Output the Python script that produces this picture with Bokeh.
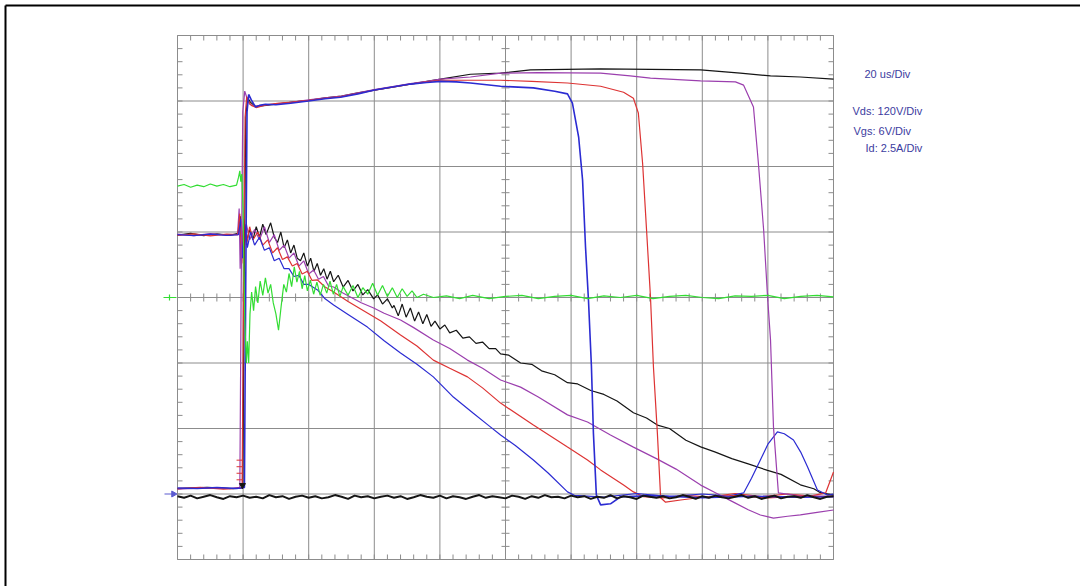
from bokeh.plotting import figure
from bokeh.models import Range1d, Label
from bokeh.embed import file_html
from bokeh.resources import INLINE
import numpy as np

# ---------------- DATA ----------------
# time in microseconds (20 us/div), Vds in volts (120 V/div), Vgs in volts (6 V/div), Id in amps (2.5 A/div)

vgs_t = [0, 2, 4, 6, 8, 10, 12, 14, 16, 18, 18.6, 19.0, 19.3, 19.6, 20.0, 20.5, 21.0, 21.3, 21.7, 22.1,
         22.6, 23.2, 23.8, 24.5, 25.2, 26.0, 26.8, 27.6, 28.4, 29.2, 30.0, 30.8, 31.6, 32.4, 33.2, 34.0,
         34.8, 35.6, 36.4, 37.2, 38.0, 38.8, 39.6, 40.5, 41.5, 42.5, 43.5, 44.5, 45.5, 46.5, 47.5, 48.5,
         49.5, 50.5, 52, 53.5, 55, 56.5, 58, 59.5, 61, 62.5, 64, 65.5, 67, 68.5, 70, 71.5, 73, 75, 78,
         82, 86, 90, 95, 100, 105, 110, 115, 120, 125, 130, 135, 140, 145, 150, 155, 160, 165, 170, 175,
         180, 185, 190, 195, 200]
vgs_v = [10.2, 10.35, 10.1, 10.3, 10.15, 10.4, 10.2, 10.35, 10.15, 10.3, 11.0, 11.6, 10.6, 11.3, 8.0, -2.0,
         -6.0, -4.0, -6.0, -1.5, 0.5, -1.2, 1.0, -0.5, 1.5, 0.2, 1.8, 0.4, 1.2, -0.5, -1.5, -3.0, -0.8, 1.2,
         0.5, 2.2, 1.0, 2.8, 1.4, 2.4, 0.8, 2.0, 0.6, 1.6, 0.3, 1.4, 0.2, 1.2, 0.4, 1.5, 0.3, 1.2, 0.1, 1.0,
         0.2, 1.1, 0.0, 0.9, 0.3, 1.3, 0.2, 1.1, 0.1, 0.9, 0.0, 0.8, 0.1, 0.6, 0.0, 0.3, 0.0, 0.15, -0.1,
         0.2, -0.1, 0.1, 0.2, -0.1, 0.1, 0.2, -0.1, 0.15, 0.0, 0.2, -0.1, 0.1, 0.2, 0.0, -0.1, 0.15, 0.1,
         0.2, -0.1, 0.1, 0.2, 0.05]

# Vds traces
vds_blue_t = [0, 6, 12, 18, 20.4, 20.8, 21.2, 21.7, 22.5, 23.8, 25, 26.8, 30, 34.5, 39.9, 45, 49.7, 55, 60.1,
              66, 71, 76, 80.2, 85, 89.3, 98.5, 108.5, 115, 118.9, 120.4, 122.3, 123.5, 124.4, 125.3, 126.2,
              126.8, 127.7, 129, 132, 135.1, 145, 160, 175, 190, 200]
vds_blue_v = [11, 10, 12, 10, 12, 380, 700, 732, 722, 709, 712, 714, 713, 716, 720, 724, 727, 733, 740,
              746, 751, 754, 756, 755, 753, 747, 744, 738, 733, 716, 654, 575, 452, 355, 233,
              112, -2, -20, -18, -5, -3, -7, -4, -6, -5]

vds_red_t = [0, 7, 14, 19.7, 20.1, 20.6, 21.1, 21.6, 22.5, 24, 27, 31, 35, 40, 45, 50, 55, 60, 66, 71, 76,
             80.2, 89.3, 98.5, 108, 118.9, 129, 136, 139, 140.5, 141.8, 143, 144.2, 145.1, 146.3, 147.3,
             148.8, 153.4, 160, 170, 180, 190, 200]
vds_red_v = [10, 12, 9, 11, 360, 690, 728, 720, 712, 708, 713, 716, 718, 721, 725, 728, 734, 740, 746,
             751, 755, 758, 758, 758, 756, 753, 747, 736, 725, 698, 606, 484, 361, 233, 112, -7,
             -15, -11, -6, -3, -7, -4, -5]

vds_purple_t = [0, 8, 16, 19.0, 19.4, 19.9, 20.5, 21.2, 22, 23.8, 27, 31, 35, 40, 45, 50, 55, 60, 66, 71,
                76, 80.2, 89.3, 98.5, 110, 129, 138, 144.2, 159.5, 170.1, 172.6, 175.6, 177.1, 178.7,
                179.9, 180.8, 181.7, 183.2, 190, 200]
vds_purple_v = [9, 11, 10, 12, 370, 700, 738, 725, 714, 710, 713, 715, 718, 722, 726, 729, 735, 741, 747,
                752, 756, 760, 764, 771, 772, 771, 766, 762, 757, 755, 749, 709, 606, 484,
                361, 282, 123, 2, -4, -4]

vds_black_t = [0, 9, 17, 19.9, 20.3, 20.8, 21.4, 22.2, 23.8, 27, 31, 35, 40, 45, 50, 55, 60, 66, 71, 76,
               80.2, 89.3, 98.5, 107.6, 129, 159.5, 171.6, 180.8, 189.9, 200]
vds_black_v = [10, 12, 10, 11, 350, 690, 726, 718, 710, 712, 715, 718, 721, 726, 729, 735, 740, 746,
               751, 756, 760, 769, 771, 777, 779, 777, 771, 766, 764, 760]

# Id traces
id_black_t = [0, 4, 8, 12, 16, 18.5, 19.2, 19.7, 20.3, 21.0, 22.0, 23.0, 24.0, 25.0, 26.0, 27.0, 28.4, 29.5,
              30.5, 31.5, 32.5, 33.5, 34.5, 35.5, 36.5, 37.5, 38.5, 39.6, 40.6, 41.6, 42.6, 43.6, 44.6,
              45.6, 46.6, 47.6, 49, 50.5, 52, 53.5, 55, 56.5, 58, 59.8, 61, 62.5, 64, 65.5, 66, 67.3,
              68.5, 69.7, 71, 72.3, 73.5, 74.8, 76, 77.3, 78.5, 80, 81.5, 83, 85, 87, 89, 91, 93, 95, 97,
              98.5, 101, 104.6, 108, 111, 115, 118.9, 122, 126, 130, 134, 139, 143, 146.3, 150, 155,
              159.5, 164, 169, 174, 179.9, 184, 189.9, 194, 196, 200]
id_black_a = [9.88, 9.95, 9.86, 9.93, 9.87, 9.95, 10.6, 9.2, 10.4, 9.6, 10.1, 9.7, 10.2, 9.8, 10.3, 9.9,
              10.35, 9.8, 9.6, 10.0, 9.4, 9.7, 9.2, 9.5, 9.0, 8.9, 9.2, 8.7, 9.0, 8.5, 8.8, 8.35, 8.6,
              8.2, 8.5, 8.1, 8.35, 7.9, 8.15, 7.75, 8.0, 7.6, 7.8, 7.45, 7.6, 7.25, 7.45, 7.1, 7.2, 6.8,
              7.25, 6.75, 7.1, 6.6, 6.95, 6.5, 6.85, 6.4, 6.6, 6.3, 6.45, 6.15, 6.25, 5.95, 6.0, 5.75,
              5.8, 5.55, 5.55, 5.35, 5.3, 5.0, 4.95, 4.7, 4.55, 4.25, 4.2, 3.95, 3.8, 3.55, 3.1, 2.9,
              2.63, 2.5, 2.05, 1.8, 1.6, 1.35, 1.15, 0.9, 0.75, 0.35, 0.2, 0.05, -0.04]

id_purple_t = [0, 5, 10, 15, 18.3, 18.8, 19.1, 19.5, 20.0, 21, 22, 23.5, 25, 26.5, 28, 29.5, 31, 32.5, 34,
               35.5, 37, 38.5, 40, 41.5, 43, 44.5, 46, 47.6, 50, 53, 56, 59.8, 63, 68, 72, 78, 83, 88.4,
               93, 98.5, 104.6, 110, 118.9, 125, 132, 139, 146, 152, 159.5, 164, 169.5, 174, 177.7,
               181.7, 186, 189.9, 195, 200]
id_purple_a = [9.92, 9.86, 9.94, 9.88, 9.9, 10.9, 8.6, 10.4, 9.4, 10.3, 9.7, 10.1, 9.7, 10.2, 9.6, 9.9,
               9.3, 9.5, 9.0, 9.2, 8.7, 8.9, 8.4, 8.55, 8.2, 8.3, 7.95, 7.9, 7.7, 7.5, 7.3, 7.1, 6.9,
               6.64, 6.35, 5.88, 5.55, 5.11, 4.8, 4.35, 4.08, 3.7, 3.02, 2.75, 2.25, 1.79, 1.35, 0.95,
               0.34, 0.05, -0.31, -0.6, -0.8, -0.92, -0.85, -0.8, -0.7, -0.61]

id_red_t = [0, 5, 10, 15, 18.4, 19.0, 19.6, 20.2, 21, 22, 23, 24.5, 26, 27.5, 29, 30.5, 32, 33.5, 35, 36.5,
            38, 39.6, 41, 42.7, 45, 47.6, 52, 57.9, 62, 68, 73, 78, 83, 88.4, 93, 98.5, 108.5, 118.9,
            125, 129, 136, 139, 142, 148, 155, 162, 170, 178, 186, 193, 197.6, 200]
id_red_a = [9.87, 9.93, 9.85, 9.92, 9.9, 10.7, 8.8, 10.5, 9.5, 10.2, 9.7, 10.0, 9.5, 9.7, 9.2, 9.4, 8.95,
            9.05, 8.7, 8.8, 8.4, 8.5, 8.15, 8.17, 7.9, 7.71, 7.35, 6.91, 6.6, 6.07, 5.65, 5.11, 4.8,
            4.47, 4.05, 3.47, 2.63, 1.79, 1.3, 0.92, 0.34, 0.08, -0.1, -0.15, -0.05, -0.12, 0.02,
            -0.1, 0.0, -0.08, 0.04, 0.84]

id_blue_t = [0, 5, 10, 15, 18.6, 19.3, 19.8, 20.5, 21.3, 22.3, 23.5, 25, 26.5, 28, 29.5, 31, 32.5, 34,
             35.5, 37, 38.5, 40, 42.7, 45, 47.6, 52, 57.9, 63, 68, 73, 78, 84.1, 90, 95, 98.5, 103,
             108.5, 113, 118.9, 121, 130, 140, 150, 160, 168, 172.6, 175, 177.7, 180, 182.9, 185, 187.8,
             190, 192.1, 195.1, 198.2, 200]
id_blue_a = [9.9, 9.86, 9.92, 9.87, 9.9, 10.5, 9.0, 10.3, 9.4, 10.0, 9.5, 9.8, 9.3, 9.4, 8.9, 9.0, 8.6,
             8.6, 8.3, 8.35, 8.0, 8.0, 7.79, 7.45, 7.21, 6.85, 6.37, 5.85, 5.38, 4.95, 4.47, 3.7, 3.1,
             2.6, 2.25, 1.85, 1.3, 0.8, 0.08, -0.05, -0.12, 0.02, -0.1, 0.0, -0.08, 0.04, 0.6, 1.3, 1.9,
             2.37, 2.3, 2.06, 1.6, 1.03, 0.15, -0.04, 0.0]

# thick black base-line trace (sampled every 2 us), volts on the Vds scale
base_t = list(range(0, 201, 2))
base_v = [-4, -7, -3, -8, -5, -2, -6, -9, -4, -6,
          -3, -7, -5, -8, -2, -6, -4, -9, -5, -3,
          -7, -4, -8, -6, -2, -5, -9, -3, -6, -4,
          -8, -5, -3, -7, -4, -9, -6, -2, -5, -7,
          -3, -8, -4, -6, -9, -5, -2, -7, -4, -6,
          -8, -3, -5, -9, -4, -7, -2, -6, -5, -8,
          -3, -6, -4, -9, -5, -7, -2, -8, -4, -6,
          -9, -3, -5, -7, -4, -8, -6, -2, -5, -9,
          -4, -7, -3, -6, -8, -5, -2, -7, -4, -9,
          -6, -3, -8, -5, -4, -7, -2, -6, -9, -5,
          -4]

# red trigger marks (volts on the Vds scale)
trig_marks_v = [26, 38, 50, 62]

scale_texts = ["20 us/Div", "Vds: 120V/Div", "Vgs: 6V/Div", "Id: 2.5A/Div"]

# ---------------- SCALES ----------------
VDS_PER_DIV, VGS_PER_DIV, ID_PER_DIV = 120.0, 6.0, 2.5
VDS_GND, ID_GND, VGS_GND = -3.0, -3.0, 0.0
US_PER_DIV = 20.0

def vds(v): return [VDS_GND + x / VDS_PER_DIV for x in v]
def idv(a): return [ID_GND + x / ID_PER_DIV for x in a]
def vgs(v): return [VGS_GND + x / VGS_PER_DIV for x in v]

# ---------------- LAYOUT ----------------
W, H = 1080, 586
X0_PX, X1_PX = 177, 833          # grid left/right in pixels
Y0_PX = 297                      # centre line in pixels from top
PX_US = (X1_PX - X0_PX) / 200.0  # px per microsecond
PX_DIV = 65.5                    # px per vertical division

def xd(px): return (px - X0_PX) / PX_US
def yd(py): return (Y0_PX - py) / PX_DIV

p = figure(width=W, height=H, output_backend="svg", toolbar_location=None,
           x_range=Range1d(xd(0), xd(W)), y_range=Range1d(yd(H), yd(0)),
           x_axis_type=None, y_axis_type=None, min_border=0, title=None)
p.outline_line_color = None
p.background_fill_color = "white"
p.border_fill_color = "white"

GRID = "#8c8c8c"
# grid
vx = [i * US_PER_DIV for i in range(11)]
hy = list(range(-4, 5))
p.multi_line(xs=[[x, x] for x in vx], ys=[[-4, 4] for _ in vx], line_color=GRID, line_width=1)
p.multi_line(xs=[[0, 200] for _ in hy], ys=[[y, y] for y in hy], line_color=GRID, line_width=1)

# minor ticks
tk = 5
mt = [i * 4.0 for i in range(51)]
my = [-4 + i * 0.2 for i in range(41)]
xs, ys = [], []
for t in mt:
    xs += [[t, t], [t, t], [t, t]]
    ys += [[4, 4 - tk / PX_DIV], [-4, -4 + tk / PX_DIV], [-4 / PX_DIV, 4 / PX_DIV]]
for y in my:
    xs += [[0, tk / PX_US], [200, 200 - tk / PX_US], [100 - 4 / PX_US, 100 + 4 / PX_US]]
    ys += [[y, y], [y, y], [y, y]]
p.multi_line(xs=xs, ys=ys, line_color=GRID, line_width=1)

BLUE, RED, PURPLE, BLACK, GREEN = "#2b2bd2", "#dd3333", "#9b3fae", "#151515", "#33dd33"
LW = 1.2

# Id traces
p.line(id_black_t, idv(id_black_a), line_color=BLACK, line_width=LW)
p.line(id_purple_t, idv(id_purple_a), line_color=PURPLE, line_width=LW)
p.line(id_red_t, idv(id_red_a), line_color=RED, line_width=LW)
p.line(id_blue_t, idv(id_blue_a), line_color=BLUE, line_width=LW)

# Vds traces
p.line(vds_black_t, vds(vds_black_v), line_color=BLACK, line_width=LW)
p.line(vds_purple_t, vds(vds_purple_v), line_color=PURPLE, line_width=LW)
p.line(vds_red_t, vds(vds_red_v), line_color=RED, line_width=LW)
p.line(vds_blue_t, vds(vds_blue_v), line_color=BLUE, line_width=1.6)

# base line trace
n = min(len(base_t), len(base_v))
p.line(base_t[:n], vds(base_v[:n]), line_color=BLACK, line_width=2)

# Vgs
p.line(vgs_t, vgs(vgs_v), line_color=GREEN, line_width=LW)

# trigger marks
mk = vds(trig_marks_v)
p.multi_line(xs=[[18.0, 20.0] for _ in mk], ys=[[y, y] for y in mk], line_color=RED, line_width=1)
p.scatter([19.8], vds([16]), marker="inverted_triangle", size=6, color=BLACK)

# channel ground markers on the left
p.line([xd(163), xd(176)], [VGS_GND, VGS_GND], line_color=GREEN, line_width=1.2)
p.line([xd(169), xd(169)], [VGS_GND - 3 / PX_DIV, VGS_GND + 3 / PX_DIV], line_color=GREEN, line_width=1.2)
p.line([xd(164), xd(173)], [VDS_GND, VDS_GND], line_color="#5a5ad0", line_width=1.2)
p.scatter([xd(173)], [VDS_GND], marker="triangle", angle=-np.pi / 2, size=6, color="#5a5ad0")

# scale texts
TXT = "#3c3ca0"
pos = [(864, 73), (852, 110), (853, 130), (865, 147)]
for s, (px_, py_) in zip(scale_texts, pos):
    p.add_layout(Label(x=xd(px_), y=yd(py_), text=s, text_font="Liberation Sans",
                       text_font_size="11px", text_color=TXT, text_baseline="middle"))

# outer page frame
p.line([xd(5), xd(5)], [yd(5), yd(H)], line_color="black", line_width=2)
p.line([xd(5), xd(W)], [yd(5), yd(5)], line_color="black", line_width=2)

open("out.html", "w").write(file_html(p, INLINE))
